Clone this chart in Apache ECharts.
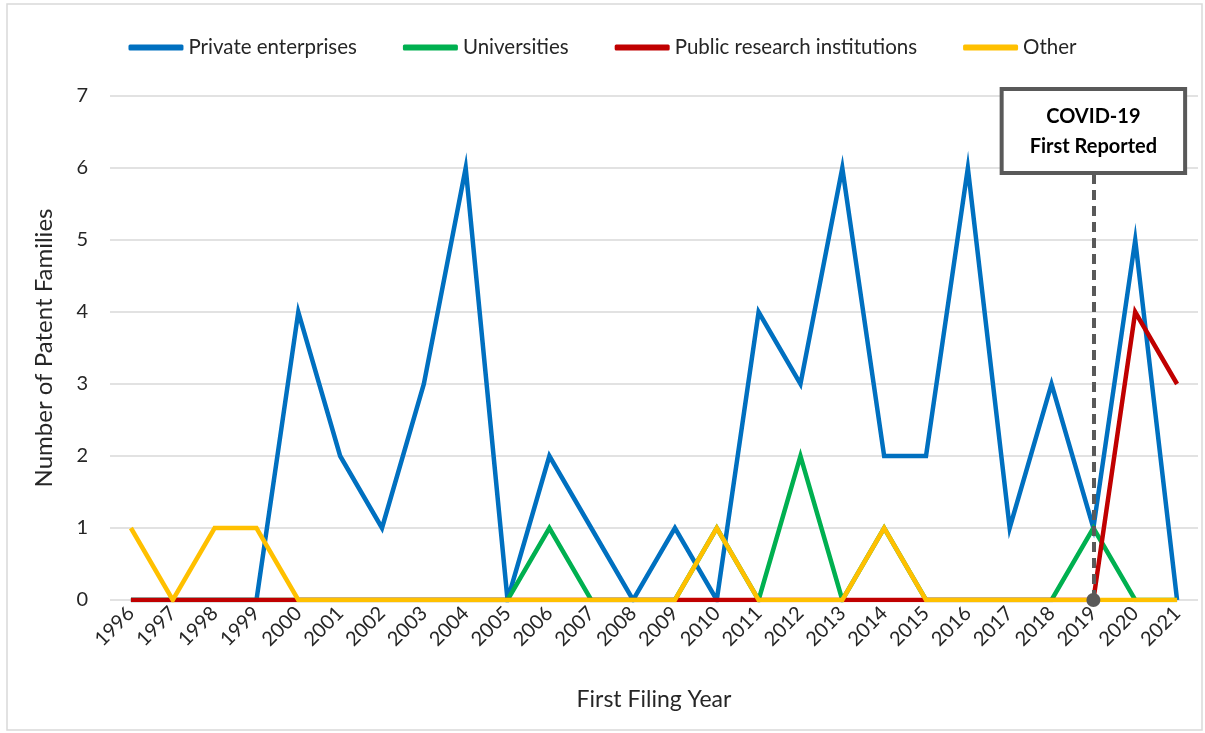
<!DOCTYPE html>
<html>
<head>
<meta charset="utf-8">
<script src="https://cdn.jsdelivr.net/npm/echarts@6/dist/echarts.min.js"></script>
<style>html,body{margin:0;padding:0;background:#fff;}#c{width:1205px;height:733px;}</style>
</head>
<body>
<div id="c"></div>
<script>
const years = ['1996','1997','1998','1999','2000','2001','2002','2003','2004','2005','2006','2007','2008','2009','2010','2011','2012','2013','2014','2015','2016','2017','2018','2019','2020','2021'];
const privateEnterprises = [0,0,0,0,4,2,1,3,6,0,2,1,0,1,0,4,3,6,2,2,6,1,3,1,5,0];
const universities       = [0,0,0,0,0,0,0,0,0,0,1,0,0,0,1,0,2,0,1,0,0,0,0,1,0,0];
const publicResearch     = [0,0,0,0,0,0,0,0,0,0,0,0,0,0,0,0,0,0,0,0,0,0,0,0,4,3];
const other              = [1,0,1,1,0,0,0,0,0,0,0,0,0,0,1,0,0,0,1,0,0,0,0,0,0,0];
const yTicks = [0,1,2,3,4,5,6,7];
const covidYear = '2019';
const covidLabel = 'COVID-19\nFirst Reported';

const FONT = 'Lato, "Open Sans", sans-serif';
const TXT = '#262626';
const chart = echarts.init(document.getElementById('c'));
function ls(name, data, color) {
  return {
    name, type: 'line', data, showSymbol: false, symbol: 'none',
    lineStyle: { width: 4.5, color, join: 'miter' }, itemStyle: { color },
    animation: false, z: 2
  };
}
chart.setOption({
  animation: false,
  textStyle: { fontFamily: FONT, color: TXT },
  graphic: [{
    type: 'rect', shape: { x: 7, y: 4, width: 1195, height: 726 },
    style: { fill: 'none', stroke: '#d9d9d9', lineWidth: 1.5 }, silent: true, z: -10
  }],
  legend: {
    top: 32, left: 'center',
    data: ['Private enterprises', 'Universities', 'Public research institutions', 'Other'],
    icon: 'roundRect', itemWidth: 55, itemHeight: 6, itemGap: 46,
    textStyle: { fontSize: 20.5, color: TXT, fontFamily: FONT }
  },
  grid: { left: 110, right: 7, top: 96, bottom: 133, containLabel: false },
  xAxis: {
    type: 'category', data: years, boundaryGap: true,
    name: 'First Filing Year', nameLocation: 'middle', nameGap: 88,
    nameTextStyle: { fontSize: 23, color: TXT, fontFamily: FONT },
    axisLine: { show: false }, axisTick: { show: false },
    axisLabel: { rotate: 45, fontSize: 20, color: TXT, margin: 10, interval: 0, fontFamily: FONT }
  },
  yAxis: {
    type: 'value', min: yTicks[0], max: yTicks[yTicks.length - 1], interval: 1,
    name: 'Number of Patent Families', nameLocation: 'middle', nameGap: 54,
    nameTextStyle: { fontSize: 24, color: TXT, fontFamily: FONT },
    axisLine: { show: false }, axisTick: { show: false },
    axisLabel: { fontSize: 20, color: TXT, margin: 22, fontFamily: FONT },
    splitLine: { lineStyle: { color: '#d9d9d9', width: 1.5 } }
  },
  series: [
    ls('Private enterprises', privateEnterprises, '#0070C0'),
    ls('Universities', universities, '#00B050'),
    ls('Public research institutions', publicResearch, '#C00000'),
    ls('Other', other, '#FFC000'),
    {
      name: 'annotation', type: 'line', data: [], z: 5,
      markPoint: {
        silent: true, animation: false,
        symbol: 'circle', symbolSize: 14,
        itemStyle: { color: '#595959' },
        label: { show: false },
        data: [{ coord: [covidYear, 0] }]
      },
      markLine: {
        silent: true, animation: false,
        symbol: ['none', 'none'],
        lineStyle: { type: [10, 6], width: 4, color: '#595959' },
        label: {
          show: true, position: 'end', formatter: covidLabel,
          fontSize: 20, fontWeight: 'bold', color: '#000', fontFamily: FONT,
          lineHeight: 30, backgroundColor: '#fff', borderColor: '#595959', borderWidth: 4,
          padding: [11, 26, 9, 26], distance: 0, align: 'center'
        },
        data: [[{ coord: [covidYear, 0] }, { coord: [covidYear, 5.96] }]]
      }
    }
  ]
});
</script>
</body>
</html>
